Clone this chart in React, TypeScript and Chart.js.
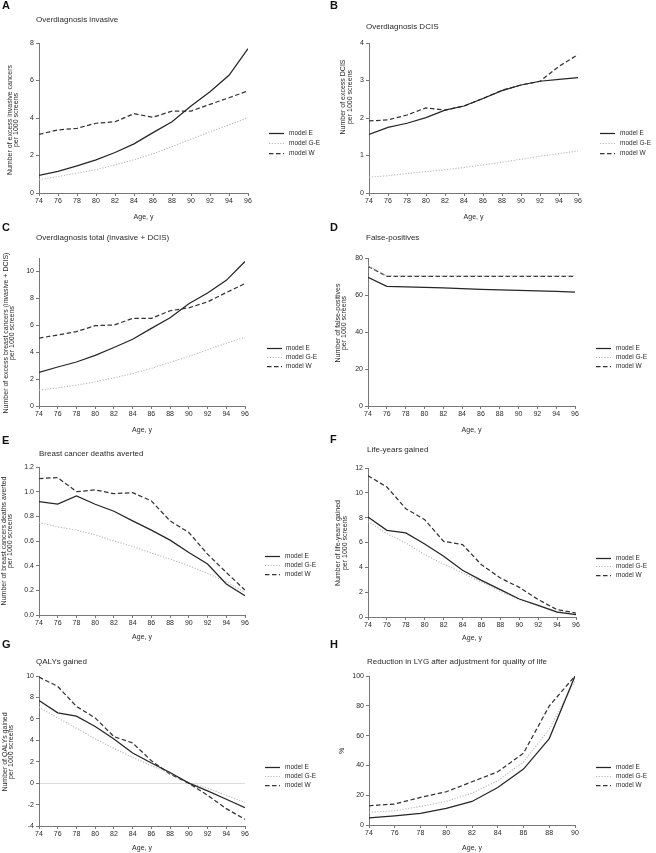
import React, { useEffect, useRef } from "react";
import { Chart, registerables } from "chart.js";
Chart.register(...registerables);

// ---------- data ----------
const ages = [74, 76, 78, 80, 82, 84, 86, 88, 90, 92, 94, 96];
const agesH = [74, 76, 78, 80, 82, 84, 86, 88, 90];
const seriesLabels = ["model E", "model G-E", "model W"];

const invasiveE = [0.94, 1.15, 1.45, 1.77, 2.16, 2.62, 3.22, 3.8, 4.64, 5.4, 6.28, 7.7];
const invasiveGE = [0.71, 0.88, 1.06, 1.24, 1.5, 1.77, 2.09, 2.48, 2.87, 3.27, 3.63, 4.02];
const invasiveW = [3.13, 3.36, 3.45, 3.72, 3.8, 4.23, 4.04, 4.37, 4.37, 4.73, 5.08, 5.45];

const dcisE = [1.56, 1.75, 1.86, 2.01, 2.21, 2.32, 2.52, 2.73, 2.88, 2.98, 3.03, 3.08];
const dcisGE = [0.42, 0.46, 0.52, 0.57, 0.62, 0.68, 0.75, 0.82, 0.9, 0.98, 1.05, 1.12];
const dcisW = [1.92, 1.95, 2.08, 2.27, 2.21, 2.32, 2.52, 2.74, 2.88, 2.98, 3.38, 3.69];

const totalE = [2.5, 2.9, 3.27, 3.76, 4.35, 4.96, 5.77, 6.56, 7.6, 8.4, 9.34, 10.74];
const totalGE = [1.18, 1.35, 1.55, 1.8, 2.09, 2.41, 2.8, 3.24, 3.69, 4.18, 4.67, 5.11];
const totalW = [5.04, 5.28, 5.53, 5.97, 6.02, 6.51, 6.51, 7.08, 7.3, 7.74, 8.43, 9.1];

const falsePosE = [69.6, 64.7, 64.4, 64.1, 63.8, 63.5, 63.1, 62.8, 62.5, 62.2, 61.9, 61.5];
const falsePosGE = [75.8, 70.4, 70.4, 70.4, 70.4, 70.4, 70.4, 70.4, 70.4, 70.4, 70.4, 70.4];
const falsePosW = [75.5, 70.1, 70.1, 70.1, 70.1, 70.1, 70.1, 70.1, 70.1, 70.1, 70.1, 70.1];

const deathsE = [0.92, 0.9, 0.965, 0.898, 0.841, 0.763, 0.688, 0.607, 0.507, 0.413, 0.251, 0.156];
const deathsGE = [0.75, 0.715, 0.688, 0.65, 0.6, 0.556, 0.502, 0.453, 0.4, 0.337, 0.27, 0.183];
const deathsW = [1.106, 1.114, 1.0, 1.014, 0.984, 0.992, 0.925, 0.763, 0.669, 0.494, 0.345, 0.202];

const lygE = [8.05, 6.98, 6.77, 5.88, 4.89, 3.76, 2.95, 2.2, 1.45, 0.94, 0.4, 0.19];
const lygGE = [7.7, 6.71, 5.96, 5.02, 4.27, 3.54, 2.82, 2.07, 1.4, 0.91, 0.46, 0.24];
const lygW = [11.38, 10.47, 8.72, 7.84, 6.09, 5.83, 4.21, 3.14, 2.39, 1.4, 0.59, 0.32];

const qalyE = [7.72, 6.56, 6.25, 5.28, 4.13, 2.81, 1.88, 1.0, 0.0, -0.72, -1.5, -2.28];
const qalyGE = [7.09, 6.09, 5.13, 4.13, 3.25, 2.41, 1.63, 0.91, 0.06, -0.47, -1.13, -1.81];
const qalyW = [9.9, 9.03, 7.16, 6.09, 4.34, 3.75, 2.09, 0.84, 0.0, -1.13, -2.38, -3.38];

const reductionE = [4.7, 6.2, 7.8, 11.2, 15.8, 25.2, 37.5, 58, 100];
const reductionGE = [8.5, 9.6, 12.5, 15.8, 21.4, 29.7, 42.4, 64.3, 96.7];
const reductionW = [12.9, 14.1, 18.5, 22.3, 29, 35.7, 48.2, 79.9, 100];

const ticksA = [0, 2, 4, 6, 8];
const ticksB = [0, 1, 2, 3, 4];
const ticksC = [0, 2, 4, 6, 8, 10];
const ticksD = [0, 20, 40, 60, 80];
const ticksE = [0, 0.2, 0.4, 0.6, 0.8, 1.0, 1.2];
const ticksF = [0, 2, 4, 6, 8, 10, 12];
const ticksG = [-4, -2, 0, 2, 4, 6, 8, 10];
const ticksH = [0, 20, 40, 60, 80, 100];

// ---------- styling ----------
const FONT = '"Liberation Sans", Arial, sans-serif';
const TEXT = "#2a2a2a";
const AXIS = "#777777";
const lineStyles = [
  { color: "#262626", dash: [] as number[], width: 1.25 },
  { color: "#b8b8b8", dash: [1.2, 1.6], width: 1.1 },
  { color: "#333333", dash: [4.5, 2.5], width: 1.25 },
];

type Panel = {
  letter: string;
  title: string;
  ytitle: string[];
  xs: number[];
  series: number[][];
  yticks: number[];
  ymin: number;
  ymax: number;
  decimals: number;
  zeroLine?: boolean;
  cx: number; cy: number; w: number; h: number;
  L: number; R: number; T: number; B: number;
  letterPos: [number, number];
  titlePos: [number, number];
  ytitleX: number[];
  ytitleY: number;
  xtitleY: number;
  legX: [number, number, number];
  legY: number[];
};

const panels: Panel[] = [
  {
    letter: "A", title: "Overdiagnosis invasive",
    ytitle: ["Number of excess invasive cancers", "per 1000 screens"],
    xs: ages, series: [invasiveE, invasiveGE, invasiveW], yticks: ticksA, ymin: 0, ymax: 8, decimals: 0,
    cx: 0, cy: 0, w: 328, h: 228, L: 39, R: 248, T: 43, B: 193,
    letterPos: [2, 6], titlePos: [36, 20], ytitleX: [10, 16], ytitleY: 120, xtitleY: 217,
    legX: [269, 284, 289], legY: [133, 143, 153],
  },
  {
    letter: "B", title: "Overdiagnosis DCIS",
    ytitle: ["Number of excess DCIS", "per 1000 screens"],
    xs: ages, series: [dcisE, dcisGE, dcisW], yticks: ticksB, ymin: 0, ymax: 4, decimals: 0,
    cx: 328, cy: 0, w: 328, h: 228, L: 369, R: 578, T: 43, B: 193,
    letterPos: [330, 6], titlePos: [366, 27], ytitleX: [343, 350], ytitleY: 97, xtitleY: 217,
    legX: [600, 615, 620], legY: [133, 143, 153],
  },
  {
    letter: "C", title: "Overdiagnosis total (invasive + DCIS)",
    ytitle: ["Number of excess breast cancers (invasive + DCIS)", "per 1000 screens"],
    xs: ages, series: [totalE, totalGE, totalW], yticks: ticksC, ymin: 0, ymax: 11, decimals: 0,
    cx: 0, cy: 213, w: 328, h: 228, L: 39, R: 245, T: 258, B: 406,
    letterPos: [2, 228], titlePos: [36, 238], ytitleX: [6, 12], ytitleY: 333, xtitleY: 430,
    legX: [267, 282, 286], legY: [348, 357, 366],
  },
  {
    letter: "D", title: "False-positives",
    ytitle: ["Number of false-positives", "per 1000 screens"],
    xs: ages, series: [falsePosE, falsePosGE, falsePosW], yticks: ticksD, ymin: 0, ymax: 80, decimals: 0,
    cx: 328, cy: 213, w: 328, h: 228, L: 368, R: 575, T: 258, B: 406,
    letterPos: [330, 228], titlePos: [366, 238], ytitleX: [338, 344], ytitleY: 323, xtitleY: 430,
    legX: [596, 611, 616], legY: [348, 357, 366],
  },
  {
    letter: "E", title: "Breast cancer deaths averted",
    ytitle: ["Number of breast cancers deaths averted", "per 1000 screens"],
    xs: ages, series: [deathsE, deathsGE, deathsW], yticks: ticksE, ymin: 0, ymax: 1.2, decimals: 1,
    cx: 0, cy: 426, w: 328, h: 228, L: 39, R: 245, T: 467, B: 615,
    letterPos: [2, 441], titlePos: [39, 454], ytitleX: [4, 10], ytitleY: 541, xtitleY: 637,
    legX: [265, 280, 285], legY: [556, 565, 574],
  },
  {
    letter: "F", title: "Life-years gained",
    ytitle: ["Number of life-years gained", "per 1000 screens"],
    xs: ages, series: [lygE, lygGE, lygW], yticks: ticksF, ymin: 0, ymax: 12, decimals: 0,
    cx: 328, cy: 426, w: 328, h: 228, L: 368, R: 576, T: 468, B: 617,
    letterPos: [330, 440], titlePos: [367, 450], ytitleX: [338, 345], ytitleY: 543, xtitleY: 638,
    legX: [596, 611, 616], legY: [558, 566, 575],
  },
  {
    letter: "G", title: "QALYs gained",
    ytitle: ["Number of QALYs gained", "per 1000 screens"],
    xs: ages, series: [qalyE, qalyGE, qalyW], yticks: ticksG, ymin: -4, ymax: 10, decimals: 0, zeroLine: true,
    cx: 0, cy: 639, w: 328, h: 214, L: 39, R: 245, T: 676, B: 826,
    letterPos: [2, 645], titlePos: [36, 662], ytitleX: [5, 11], ytitleY: 752, xtitleY: 848,
    legX: [265, 280, 285], legY: [767, 776, 785],
  },
  {
    letter: "H", title: "Reduction in LYG after adjustment for quality of life",
    ytitle: ["%"],
    xs: agesH, series: [reductionE, reductionGE, reductionW], yticks: ticksH, ymin: 0, ymax: 100, decimals: 0,
    cx: 328, cy: 639, w: 328, h: 214, L: 369, R: 575, T: 676, B: 825,
    letterPos: [330, 645], titlePos: [367, 662], ytitleX: [342], ytitleY: 751, xtitleY: 848,
    legX: [596, 611, 616], legY: [767, 776, 785],
  },
];

const Y_AXIS_W = 25;
const X_AXIS_H = 15;

function makeConfig(p: Panel): any {
  const decor = {
    id: "decor" + p.letter,
    afterDraw(chart: any) {
      const ctx = chart.ctx as CanvasRenderingContext2D;
      const ox = p.cx, oy = p.cy;
      ctx.save();
      ctx.textBaseline = "middle";
      // letter
      ctx.textAlign = "left";
      ctx.font = `bold 11px ${FONT}`;
      ctx.fillStyle = "#111";
      ctx.fillText(p.letter, p.letterPos[0] - ox, p.letterPos[1] - oy);
      // title
      ctx.fillStyle = TEXT;
      ctx.font = `8px ${FONT}`;
      ctx.fillText(p.title, p.titlePos[0] - ox, p.titlePos[1] - oy);
      // x title
      ctx.font = `7px ${FONT}`;
      ctx.textAlign = "center";
      ctx.fillText("Age, y", (p.L + p.R) / 2 - ox, p.xtitleY - oy);
      // y title
      p.ytitle.forEach((t, i) => {
        ctx.save();
        ctx.translate(p.ytitleX[i] - ox, p.ytitleY - oy);
        ctx.rotate(-Math.PI / 2);
        ctx.textAlign = "center";
        ctx.fillText(t, 0, 0);
        ctx.restore();
      });
      // legend
      ctx.font = `6.5px ${FONT}`;
      ctx.textAlign = "left";
      seriesLabels.forEach((lab, i) => {
        const y = p.legY[i] - oy;
        const st = lineStyles[i];
        ctx.save();
        ctx.strokeStyle = st.color;
        ctx.lineWidth = st.width;
        ctx.setLineDash(st.dash);
        ctx.beginPath();
        ctx.moveTo(p.legX[0] - ox, y + 0.5);
        ctx.lineTo(p.legX[1] - ox, y + 0.5);
        ctx.stroke();
        ctx.restore();
        ctx.fillStyle = TEXT;
        ctx.fillText(lab, p.legX[2] - ox, y);
      });
      ctx.restore();
    },
  };

  const tickFont = { family: FONT, size: 7 };
  const datasets = p.series.map((vals, i) => ({
    label: seriesLabels[i],
    data: p.xs.map((x, j) => ({ x, y: vals[j] })),
    borderColor: lineStyles[i].color,
    borderWidth: lineStyles[i].width,
    borderDash: lineStyles[i].dash,
    pointRadius: 0,
    fill: false,
    tension: 0,
  }));

  return {
    type: "line",
    data: { datasets },
    options: {
      responsive: false,
      animation: false,
      devicePixelRatio: 1,
      layout: {
        padding: {
          left: p.L - p.cx - Y_AXIS_W,
          right: p.cx + p.w - p.R,
          top: p.T - p.cy,
          bottom: p.cy + p.h - p.B - X_AXIS_H,
        },
      },
      plugins: {
        legend: { display: false },
        title: { display: false },
        tooltip: { enabled: false },
      },
      scales: {
        x: {
          type: "linear",
          min: p.xs[0],
          max: p.xs[p.xs.length - 1],
          afterBuildTicks: (s: any) => { s.ticks = p.xs.map((v) => ({ value: v })); },
          afterFit: (s: any) => { s.height = X_AXIS_H; },
          ticks: { autoSkip: false, maxRotation: 0, minRotation: 0, font: tickFont, color: TEXT, padding: 1 },
          grid: { drawOnChartArea: false, drawTicks: true, tickLength: 3, tickColor: AXIS },
          border: { display: true, color: AXIS, width: 1 },
        },
        y: {
          type: "linear",
          min: p.ymin,
          max: p.ymax,
          afterBuildTicks: (s: any) => { s.ticks = p.yticks.map((v) => ({ value: v })); },
          afterFit: (s: any) => { s.width = Y_AXIS_W; },
          ticks: {
            font: tickFont,
            color: TEXT,
            padding: 2,
            callback: (v: any) => Number(v).toFixed(p.decimals),
          },
          grid: {
            drawOnChartArea: !!p.zeroLine,
            drawTicks: true,
            tickLength: 3,
            tickColor: AXIS,
            color: (c: any) => (p.zeroLine && c.tick && c.tick.value === 0 ? "#dcdcdc" : "rgba(0,0,0,0)"),
          },
          border: { display: true, color: AXIS, width: 1 },
        },
      },
    },
    plugins: [decor],
  };
}

function PanelChart({ p }: { p: Panel }) {
  const ref = useRef<HTMLCanvasElement | null>(null);
  useEffect(() => {
    if (!ref.current) return;
    const chart = new Chart(ref.current, makeConfig(p));
    return () => chart.destroy();
  }, [p]);
  return (
    <canvas
      ref={ref}
      width={p.w}
      height={p.h}
      style={{ position: "absolute", left: p.cx, top: p.cy, width: p.w, height: p.h }}
    />
  );
}

export default function App() {
  return (
    <div
      style={{
        position: "absolute",
        left: 0,
        top: 0,
        width: 656,
        height: 853,
        background: "#ffffff",
        overflow: "hidden",
      }}
    >
      {panels.map((p) => (
        <PanelChart key={p.letter} p={p} />
      ))}
    </div>
  );
}
